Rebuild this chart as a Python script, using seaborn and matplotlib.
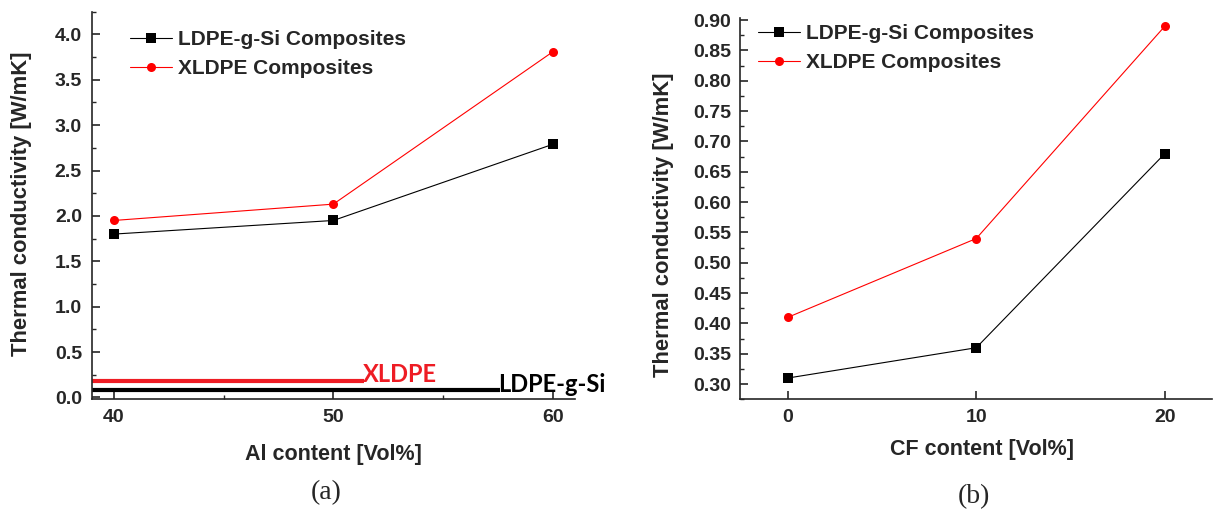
import pandas as pd
import seaborn as sns
import matplotlib.pyplot as plt
from matplotlib.ticker import MultipleLocator

# --- data ---
SERIES = ['LDPE-g-Si Composites', 'XLDPE Composites']

AL_CONTENT = [40, 50, 60]
AL_LDPE = [1.80, 1.95, 2.79]
AL_XLDPE = [1.95, 2.13, 3.81]

CF_CONTENT = [0, 10, 20]
CF_LDPE = [0.31, 0.36, 0.68]
CF_XLDPE = [0.41, 0.54, 0.89]

# neat polymer reference levels drawn on panel (a)
NEAT_LABELS = ['XLDPE', 'LDPE-g-Si']
NEAT_VALUES = [0.18, 0.08]
NEAT_END = [51.4, 57.6]

PALETTE = {'LDPE-g-Si Composites': '#000000', 'XLDPE Composites': '#FF0000'}
MARKERS = {'LDPE-g-Si Composites': 's', 'XLDPE Composites': 'o'}

W, H = 1214, 513


def to_long(x, ldpe, xldpe):
    return pd.DataFrame({
        'x': list(x) * 2,
        'k': list(ldpe) + list(xldpe),
        'Series': [SERIES[0]] * len(x) + [SERIES[1]] * len(x),
    })


def style_axis(ax, xlabel, ylabel):
    sns.despine(ax=ax)
    for s in ['left', 'bottom']:
        ax.spines[s].set_linewidth(1.2)
    ax.tick_params(which='major', direction='in', length=5.5, width=1.2,
                   labelsize=14, pad=7)
    ax.tick_params(which='minor', direction='in', length=3, width=1.0)
    for lab in ax.get_xticklabels() + ax.get_yticklabels():
        lab.set_fontweight('bold')
    ax.set_xlabel(xlabel, fontsize=15.5, fontweight='bold')
    ax.set_ylabel(ylabel, fontsize=15.8, fontweight='bold')
    ax.xaxis.label.set_va('center')
    ax.yaxis.label.set_va('center')


def draw(ax, df):
    sns.lineplot(data=df, x='x', y='k', hue='Series', style='Series',
                 hue_order=SERIES, style_order=SERIES, palette=PALETTE,
                 markers=MARKERS, dashes=False, linewidth=0.8, markersize=6.5,
                 markeredgewidth=0, ax=ax)


def legend(ax, x0, y0):
    h, l = ax.get_legend_handles_labels()
    ax.legend(h, l, loc='upper left', bbox_to_anchor=(x0 / W, 1 - y0 / H),
              bbox_transform=ax.figure.transFigure, frameon=False,
              borderpad=0, borderaxespad=0, handlelength=2.0,
              handletextpad=0.3, labelspacing=0.5,
              prop={'weight': 'bold', 'size': 15})


sns.set_style('ticks')
plt.rcParams['font.family'] = ['Liberation Sans', 'DejaVu Sans']

fig = plt.figure(figsize=(W / 100, H / 100), dpi=100)
ax1 = fig.add_axes([91.7 / W, 1 - 399.3 / H, (575 - 91.7) / W, (399.3 - 11.7) / H])
ax2 = fig.add_axes([740.5 / W, 1 - 399.3 / H, (1212 - 740.5) / W, (399.3 - 18.3) / H])

# (a) Al filler
draw(ax1, to_long(AL_CONTENT, AL_LDPE, AL_XLDPE))
ax1.set_xlim(39, 61)
ax1.set_ylim(-0.02, 4.25)
ax1.set_xticks(AL_CONTENT)
ax1.xaxis.set_minor_locator(MultipleLocator(5))
ax1.set_yticks([0, 0.5, 1.0, 1.5, 2.0, 2.5, 3.0, 3.5, 4.0])
ax1.yaxis.set_minor_locator(MultipleLocator(0.25))
ax1.yaxis.set_major_formatter('{x:.1f}')

neat_colors = ['#EE1C24', '#000000']
for lab, val, end, col in zip(NEAT_LABELS, NEAT_VALUES, NEAT_END, neat_colors):
    ax1.hlines(val, 39, end, color=col, linewidth=3, clip_on=False)
ax1.text(NEAT_END[0] - 0.05, NEAT_VALUES[0] - 0.005, NEAT_LABELS[0], color='#EE1C24',
         fontsize=17, fontweight='bold', family=['Lato', 'DejaVu Sans'],
         va='baseline', ha='left', clip_on=False)
ax1.text(NEAT_END[1] - 0.1, NEAT_VALUES[1] - 0.015, NEAT_LABELS[1], color='black',
         fontsize=17, fontweight='bold', family=['Lato', 'DejaVu Sans'],
         va='baseline', ha='left', clip_on=False)

style_axis(ax1, 'Al content [Vol%]', 'Thermal conductivity [W/mK]')
ax1.yaxis.set_label_coords(-0.1448, 0.505)
ax1.xaxis.set_label_coords(0.5, -0.1437)
legend(ax1, 130, 30)

# (b) CF filler
draw(ax2, to_long(CF_CONTENT, CF_LDPE, CF_XLDPE))
ax2.set_xlim(-2.5, 22.5)
ax2.set_ylim(0.275, 0.903)
ax2.set_xticks(CF_CONTENT)
ax2.set_yticks([0.30 + 0.05 * i for i in range(13)])
ax2.yaxis.set_minor_locator(MultipleLocator(0.025))
ax2.yaxis.set_major_formatter('{x:.2f}')
style_axis(ax2, 'CF content [Vol%]', 'Thermal conductivity [W/mK]')
ax2.yaxis.set_label_coords(-0.163, 0.4575)
ax2.xaxis.set_label_coords(0.5115, -0.133)
legend(ax2, 758, 24)

fig.text(326 / W, 1 - 493 / H, '(a)', fontsize=20, family=['Liberation Serif'],
         ha='center', va='center')
fig.text(974 / W, 1 - 497 / H, '(b)', fontsize=20, family=['Liberation Serif'],
         ha='center', va='center')

fig.savefig('out.png', dpi=100)
